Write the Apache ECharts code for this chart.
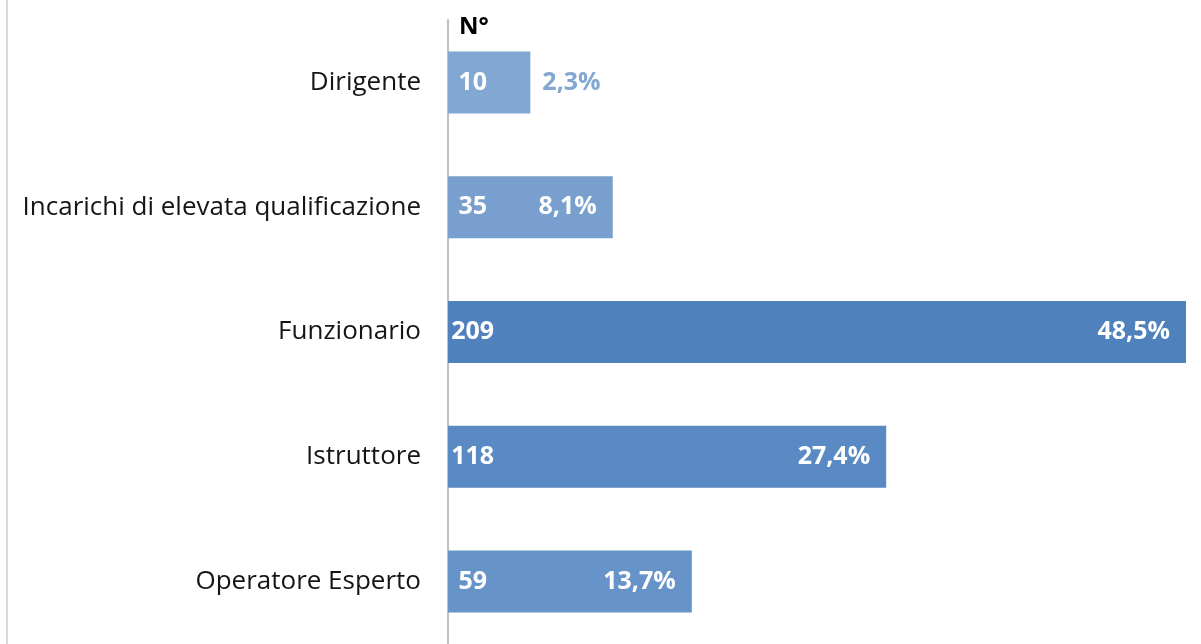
<!DOCTYPE html>
<html>
<head>
<meta charset="utf-8">
<script src="https://cdn.jsdelivr.net/npm/echarts@6/dist/echarts.min.js"></script>
<style>
  html, body { margin: 0; padding: 0; background: #ffffff; }
  #chart { width: 1201px; height: 644px; }
</style>
</head>
<body>
<div id="chart"></div>
<script>
// Personale per qualifica: numero di addetti e quota sul totale
const categories = ['Dirigente', 'Incarichi di elevata qualificazione', 'Funzionario', 'Istruttore', 'Operatore Esperto'];
const counts = [10, 35, 209, 118, 59];
const percents = ['2,3%', '8,1%', '48,5%', '27,4%', '13,7%'];
const barColors = ['#82a7d2', '#789fcd', '#4f81bd', '#5a8ac3', '#6794c8'];

// fixed-width lead (axis units) in front of each bar, where the count sits
const LEAD = 15;
const FONT = '"Open Sans", "Noto Sans", sans-serif';

// full bars: lead + count, with the share shown at the bar end
const barData = counts.map((c, i) => {
  const small = c < 20;
  return {
    value: LEAD + c,
    itemStyle: { color: barColors[i] },
    label: small
      ? { position: 'right', distance: 12, color: barColors[i] }
      : { position: 'insideRight', distance: 16, color: '#ffffff' }
  };
});

// transparent overlay covering the lead, holding the count label
const leadData = counts.map(() => LEAD);

const chart = echarts.init(document.getElementById('chart'), null, { renderer: 'canvas' });

chart.setOption({
  animation: false,
  backgroundColor: '#ffffff',
  title: {
    text: 'N°',
    left: 454,
    top: 10,
    textStyle: { fontFamily: FONT, fontSize: 24, fontWeight: 'bold', color: '#000000' }
  },
  grid: { left: 448, right: 15, top: 20, height: 628, containLabel: false },
  xAxis: {
    type: 'value',
    min: 0,
    max: LEAD + Math.max(...counts),
    show: false
  },
  yAxis: {
    type: 'category',
    data: categories,
    inverse: true,
    axisLine: { show: true, lineStyle: { color: '#bfbfbf', width: 2 } },
    axisTick: { show: false },
    axisLabel: { margin: 27, fontFamily: FONT, fontSize: 26, color: '#151515' },
    splitLine: { show: false }
  },
  series: [
    {
      type: 'bar',
      barWidth: 62,
      data: barData,
      label: {
        show: true,
        formatter: p => percents[p.dataIndex],
        fontFamily: FONT, fontSize: 25, fontWeight: 'bold'
      },
      z: 2
    },
    {
      type: 'bar',
      barWidth: 62,
      barGap: '-100%',
      data: leadData,
      itemStyle: { color: 'rgba(0,0,0,0)' },
      label: {
        show: true,
        position: 'inside',
        formatter: p => String(counts[p.dataIndex]),
        fontFamily: FONT, fontSize: 25, fontWeight: 'bold', color: '#ffffff'
      },
      z: 3
    }
  ],
  graphic: [
    {
      type: 'line',
      shape: { x1: 7, y1: 0, x2: 7, y2: 644 },
      style: { stroke: '#d9d9d9', lineWidth: 2 },
      silent: true
    }
  ]
});
</script>
</body>
</html>
